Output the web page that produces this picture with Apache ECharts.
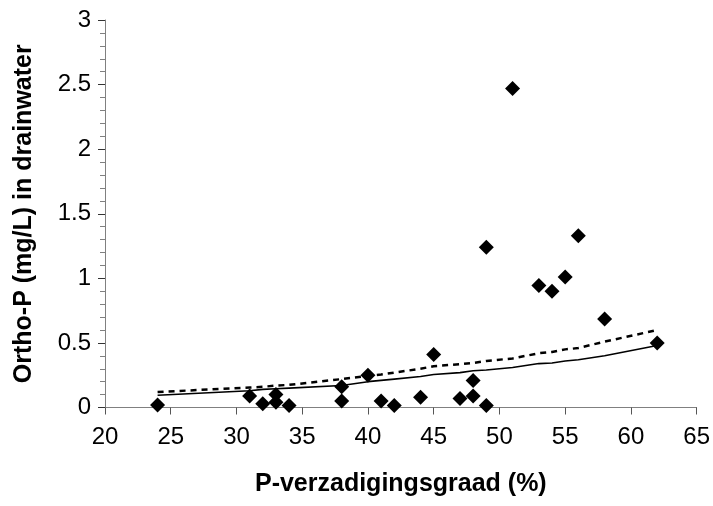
<!DOCTYPE html>
<html>
<head>
<meta charset="utf-8">
<script src="https://cdn.jsdelivr.net/npm/echarts@6/dist/echarts.min.js"></script>
<style>
html,body{margin:0;padding:0;background:#fff;}
#chart{width:713px;height:506px;}
</style>
</head>
<body>
<div id="chart"></div>
<script>
// Measured points: P-verzadigingsgraad (%) vs Ortho-P (mg/L)
const pointX = [24, 31, 32, 33, 33, 34, 38, 38, 40, 41, 42, 44, 45, 47, 48, 48, 49, 49, 51, 53, 54, 55, 56, 58, 62];
const pointY = [0.02, 0.09, 0.03, 0.10, 0.04, 0.015, 0.16, 0.05, 0.25, 0.05, 0.015, 0.08, 0.41, 0.07, 0.09, 0.21, 0.015, 1.24, 2.47, 0.945, 0.90, 1.01, 1.33, 0.685, 0.50];

// Model lines evaluated at the measured x values
const lineX = [24, 31, 32, 33, 34, 38, 40, 41, 42, 44, 45, 47, 48, 49, 51, 53, 54, 55, 56, 58, 62];
const solidY = [0.095, 0.13, 0.14, 0.145, 0.15, 0.17, 0.20, 0.21, 0.22, 0.24, 0.255, 0.27, 0.285, 0.29, 0.31, 0.34, 0.345, 0.36, 0.37, 0.40, 0.48];
const dashedY = [0.12, 0.155, 0.16, 0.17, 0.175, 0.22, 0.245, 0.255, 0.27, 0.30, 0.32, 0.335, 0.345, 0.36, 0.38, 0.42, 0.43, 0.45, 0.46, 0.51, 0.60];

const xTitle = 'P-verzadigingsgraad (%)';
const yTitle = 'Ortho-P (mg/L) in drainwater';

const FONT = '"Liberation Sans", Arial, sans-serif';

const chart = echarts.init(document.getElementById('chart'), null, {renderer: 'canvas'});
chart.setOption({
  animation: false,
  backgroundColor: '#ffffff',
  grid: {left: 105, right: 15, top: 20, bottom: 98.5, containLabel: false},
  xAxis: {
    type: 'value', min: 20, max: 65, interval: 5,
    name: xTitle, nameLocation: 'middle', nameGap: 64,
    nameTextStyle: {fontFamily: FONT, fontSize: 25, fontWeight: 'bold', color: '#000'},
    axisLine: {show: true, onZero: false, lineStyle: {color: '#808080', width: 1}},
    axisTick: {show: true, inside: false, length: 7, lineStyle: {color: '#555'}},
    axisLabel: {margin: 18, fontFamily: FONT, fontSize: 24, color: '#000'},
    splitLine: {show: false}
  },
  yAxis: {
    type: 'value', min: 0, max: 3, interval: 0.5,
    name: yTitle, nameLocation: 'middle', nameGap: 68, nameRotate: 90,
    nameTextStyle: {fontFamily: FONT, fontSize: 25, fontWeight: 'bold', color: '#000'},
    axisLine: {show: true, onZero: false, lineStyle: {color: '#808080', width: 1}},
    axisTick: {show: true, inside: false, length: 7, lineStyle: {color: '#333'}},
    minorTick: {show: true, splitNumber: 5, length: 5, lineStyle: {color: '#808080'}},
    axisLabel: {margin: 14, fontFamily: FONT, fontSize: 24, color: '#000'},
    splitLine: {show: false},
    minorSplitLine: {show: false}
  },
  series: [
    {
      type: 'line', data: lineX.map((x, i) => [x, dashedY[i]]),
      showSymbol: false, symbol: 'none', z: 2,
      lineStyle: {color: '#000', width: 2.5, type: [6, 5]}
    },
    {
      type: 'line', data: lineX.map((x, i) => [x, solidY[i]]),
      showSymbol: false, symbol: 'none', z: 2,
      lineStyle: {color: '#000', width: 1.6}
    },
    {
      type: 'scatter', data: pointX.map((x, i) => [x, pointY[i]]),
      symbol: 'diamond', symbolSize: 15, z: 3,
      itemStyle: {color: '#000', opacity: 1}
    }
  ]
});
</script>
</body>
</html>
